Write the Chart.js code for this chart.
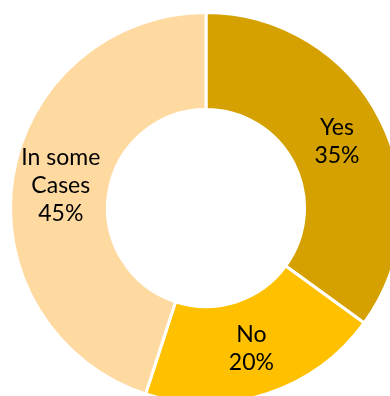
<!DOCTYPE html>
<html>
<head>
<meta charset="utf-8">
<script src="https://cdn.jsdelivr.net/npm/chart.js@4.4.1/dist/chart.umd.min.js"></script>
<style>
  html, body { margin: 0; padding: 0; background: #fff; overflow: hidden; width: 390px; height: 396px; }
  #wrap { position: absolute; left: 9px; top: 11px; width: 394px; height: 394px; }
</style>
</head>
<body>
<div id="wrap"><canvas id="pie" width="394" height="394"></canvas></div>
<script>
const categories = ['Yes', 'No', 'In some Cases'];
const labelLines = [['Yes'], ['No'], ['In some', 'Cases']];
const shares = [35, 20, 45];
const colors = ['#D4A100', '#FFC000', '#FED9A0'];

// writes "name / NN%" in the middle of each ring segment
const sliceLabels = {
  id: 'sliceLabels',
  afterDatasetsDraw(chart) {
    const { ctx } = chart;
    const meta = chart.getDatasetMeta(0);
    const size = 23, lh = 28, cap = size * 0.7;
    ctx.save();
    ctx.font = `${size}px Lato`;
    ctx.fillStyle = '#000';
    ctx.textAlign = 'center';
    ctx.textBaseline = 'alphabetic';
    meta.data.forEach((arc, i) => {
      const p = arc.getCenterPoint();
      const lines = labelLines[i].concat([shares[i] + '%']);
      const h = cap + (lines.length - 1) * lh;
      let y = p.y - h / 2 + cap;
      lines.forEach(t => { ctx.fillText(t, p.x, y); y += lh; });
    });
    ctx.restore();
  }
};

new Chart(document.getElementById('pie').getContext('2d'), {
  type: 'doughnut',
  data: { labels: categories, datasets: [{ data: shares, backgroundColor: colors, borderColor: '#fff', borderWidth: 3 }] },
  options: {
    responsive: false, animation: false, cutout: '50.4%',
    layout: { padding: 0 },
    plugins: { legend: { display: false }, tooltip: { enabled: false } }
  },
  plugins: [sliceLabels]
});
</script>
</body>
</html>
